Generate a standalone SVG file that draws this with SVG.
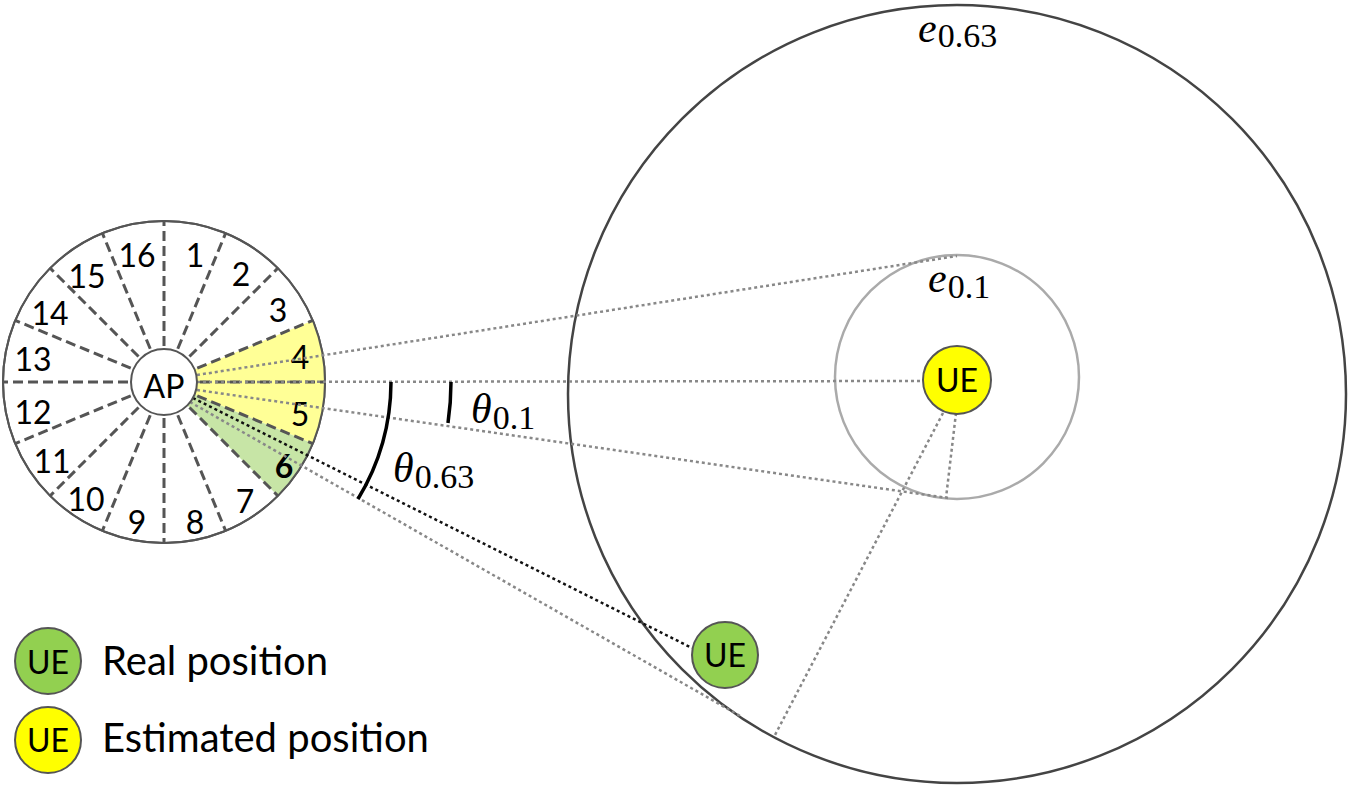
<svg xmlns="http://www.w3.org/2000/svg" width="1351" height="787" viewBox="0 0 1351 787">
<style>
.num{font-family:Lato,"Liberation Sans",sans-serif;font-size:32px;fill:#000;text-anchor:middle}
.lbl{font-family:Lato,"Liberation Sans",sans-serif;font-size:32px;fill:#000;text-anchor:middle}
.leg{font-family:Lato,"Liberation Sans",sans-serif;font-size:40px;fill:#000}
.spoke{stroke:#555;stroke-width:3;stroke-dasharray:10 5;fill:none}
.dot{stroke:#888;stroke-width:2.5;stroke-dasharray:3 3;fill:none}
.dotk{stroke:#111;stroke-width:2.5;stroke-dasharray:3 3;fill:none}
.arc{stroke:#000;stroke-width:3.5;fill:none}
.ue{stroke:#555;stroke-width:2}
.math{font-family:"Liberation Serif","DejaVu Serif",serif;fill:#000}
.mi{font-style:italic;font-size:42px}
.sub{font-size:34px}
</style>

<g id="region-e063">
<circle cx="957" cy="394" r="389" fill="none" stroke="#444" stroke-width="2.5"/>
<text class="math" x="918" y="42"><tspan class="mi">e</tspan><tspan class="sub" dx="1" dy="5">0.63</tspan></text>
</g>
<g id="region-e01">
<circle cx="957" cy="377" r="122" fill="none" stroke="#aaa" stroke-width="2.5"/>
<text class="math" x="928" y="292"><tspan class="mi">e</tspan><tspan class="sub" dx="1" dy="6">0.1</tspan></text>
</g>

<g id="ap-wheel">
<circle cx="164" cy="382" r="161" fill="#fff" stroke="#555" stroke-width="2"/>
<g transform="translate(164,382)">
<path d="M0,0 L148.7,-61.6 A161,161 0 0 1 148.7,61.6 Z" fill="#ffff96"/>
<path d="M0,0 L148.7,61.6 A161,161 0 0 1 113.8,113.8 Z" fill="#c7e5a6"/>
<circle r="161" fill="none" stroke="#555" stroke-width="2"/>
<line class="spoke" x1="36" y1="0" x2="161" y2="0"/>
<line class="spoke" x1="36" y1="0" x2="161" y2="0" transform="rotate(22.5)"/>
<line class="spoke" x1="36" y1="0" x2="161" y2="0" transform="rotate(45)"/>
<line class="spoke" x1="36" y1="0" x2="161" y2="0" transform="rotate(67.5)"/>
<line class="spoke" x1="36" y1="0" x2="161" y2="0" transform="rotate(90)"/>
<line class="spoke" x1="36" y1="0" x2="161" y2="0" transform="rotate(112.5)"/>
<line class="spoke" x1="36" y1="0" x2="161" y2="0" transform="rotate(135)"/>
<line class="spoke" x1="36" y1="0" x2="161" y2="0" transform="rotate(157.5)"/>
<line class="spoke" x1="36" y1="0" x2="161" y2="0" transform="rotate(180)"/>
<line class="spoke" x1="36" y1="0" x2="161" y2="0" transform="rotate(202.5)"/>
<line class="spoke" x1="36" y1="0" x2="161" y2="0" transform="rotate(225)"/>
<line class="spoke" x1="36" y1="0" x2="161" y2="0" transform="rotate(247.5)"/>
<line class="spoke" x1="36" y1="0" x2="161" y2="0" transform="rotate(270)"/>
<line class="spoke" x1="36" y1="0" x2="161" y2="0" transform="rotate(292.5)"/>
<line class="spoke" x1="36" y1="0" x2="161" y2="0" transform="rotate(315)"/>
<line class="spoke" x1="36" y1="0" x2="161" y2="0" transform="rotate(337.5)"/>
</g>
<text class="num" x="195" y="267">1</text>
<text class="num" x="241" y="286">2</text>
<text class="num" x="278" y="322">3</text>
<text class="num" x="300" y="369">4</text>
<text class="num" x="300" y="426">5</text>
<text class="num" x="284" y="478" font-weight="bold">6</text>
<text class="num" x="245" y="513">7</text>
<text class="num" x="195" y="534">8</text>
<text class="num" x="137" y="534">9</text>
<text class="num" x="86" y="511">10</text>
<text class="num" x="52" y="473">11</text>
<text class="num" x="33" y="424">12</text>
<text class="num" x="33" y="371">13</text>
<text class="num" x="50" y="325">14</text>
<text class="num" x="87" y="288">15</text>
<text class="num" x="137" y="267">16</text>
</g>

<g id="connectors">
<line class="dot" x1="197" y1="375" x2="957" y2="256"/>
<line class="dot" x1="197" y1="382" x2="923" y2="381"/>
<line class="dot" x1="197" y1="390" x2="948" y2="498"/>
<line class="dot" x1="956" y1="413" x2="946" y2="498"/>
<line class="dot" x1="943" y1="413" x2="775" y2="735"/>
<line class="dot" x1="190" y1="402" x2="742" y2="717"/>
<line class="dotk" x1="193" y1="398" x2="692" y2="648"/>
</g>

<g id="ap">
<circle cx="164" cy="382" r="33" fill="#fff" stroke="#555" stroke-width="2"/>
<text class="lbl" x="164" y="398">AP</text>
</g>

<g id="theta01">
<path class="arc" d="M451,382 A287,287 0 0 1 448,423"/>
<text class="math" x="471" y="423"><tspan class="mi">θ</tspan><tspan class="sub" dx="1" dy="6">0.1</tspan></text>
</g>
<g id="theta063">
<path class="arc" d="M391,382 A227,227 0 0 1 358,499"/>
<text class="math" x="393" y="482"><tspan class="mi">θ</tspan><tspan class="sub" dx="1" dy="6">0.63</tspan></text>
</g>

<g id="ue-estimated">
<circle class="ue" cx="957" cy="380" r="34" fill="#ffff00"/>
<text class="lbl" x="957" y="392">UE</text>
</g>
<g id="ue-real">
<circle class="ue" cx="725" cy="655" r="33" fill="#92d050"/>
<text class="lbl" x="725" y="667">UE</text>
</g>

<g id="legend-real">
<circle class="ue" cx="48" cy="661" r="33" fill="#92d050"/>
<text class="lbl" x="48" y="674">UE</text>
<text class="leg" x="102" y="675">Real position</text>
</g>
<g id="legend-estimated">
<circle class="ue" cx="48" cy="740" r="33" fill="#ffff00"/>
<text class="lbl" x="48" y="752">UE</text>
<text class="leg" x="102" y="752">Estimated position</text>
</g>
</svg>
